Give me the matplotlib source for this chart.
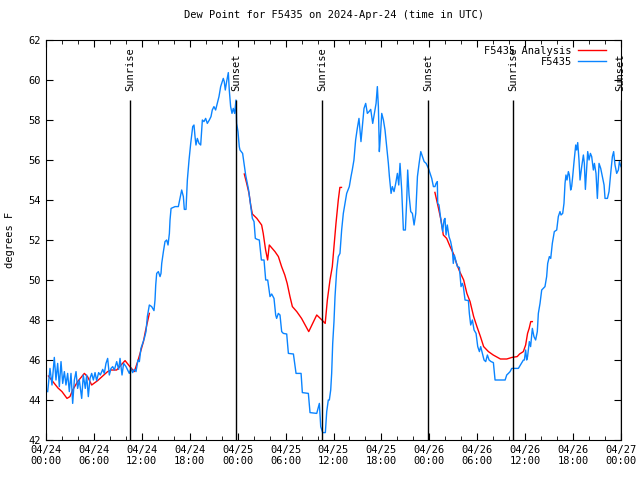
import numpy as np
import pandas as pd
import matplotlib
matplotlib.use("Agg")
import matplotlib.pyplot as plt
import matplotlib.dates as mdates

plt.rcParams['font.family'] = ['DejaVu Sans Mono']

# hours after 2024-04-24 00:00 UTC, dew point in F
blue_hours = [
    0.21, 0.50, 0.75, 1.04, 1.25, 1.46, 1.67, 1.88, 2.09, 2.30, 2.50, 2.71, 2.92, 3.13, 3.34, 3.55,
    3.76, 3.96, 4.17, 4.47, 4.67, 4.92, 5.09, 5.30, 5.51, 5.72, 5.93, 6.14, 6.34, 6.59, 6.80, 7.10,
    7.30, 7.51, 7.72, 7.93, 8.14, 8.35, 8.56, 8.85, 9.10, 9.27, 9.52, 9.72, 10.02, 10.23, 10.43,
    10.64, 10.85, 11.06, 11.27, 11.52, 11.69, 11.89, 12.10, 12.31, 12.52,
    12.69, 12.94, 13.23, 13.52, 13.65, 13.74, 13.86, 14.07, 14.28, 14.40, 14.49, 14.70, 14.90,
    15.11, 15.28, 15.45, 15.53, 15.66, 16.16, 16.57, 16.78, 16.99, 17.20, 17.32, 17.53, 17.70,
    17.91, 18.12, 18.37, 18.53, 18.66, 18.78, 18.95, 19.16, 19.37, 19.58, 19.78, 19.99, 20.20,
    20.45, 20.66, 20.82, 21.03, 21.24, 21.45, 21.66, 21.87, 22.07, 22.20, 22.32, 22.45, 22.62,
    22.83, 22.95, 23.12, 23.29, 23.45, 23.62, 23.79, 23.87, 24.04, 24.20,
    24.29, 24.62, 24.79, 25.00, 25.20, 25.37, 25.54, 25.67, 25.84, 26.05, 26.21, 26.46, 26.71,
    26.97, 27.30, 27.51, 27.76, 28.05, 28.26, 28.55, 28.76, 28.88, 29.09, 29.30, 29.51, 29.72,
    30.14, 30.35, 30.98, 31.31, 31.94, 32.10, 32.85, 33.06, 33.90, 34.23, 34.40, 34.65, 34.98,
    35.15, 35.35,
    35.48, 35.65, 35.77, 35.90, 36.06, 36.19, 36.40, 36.60, 36.81, 37.02, 37.23, 37.44, 37.65,
    37.98, 38.19, 38.35, 38.56, 38.77, 38.98, 39.19, 39.32, 39.44, 39.61, 39.82, 40.03, 40.24,
    40.45, 40.66, 40.91, 41.12, 41.33, 41.49, 41.62, 41.74, 41.87, 42.04, 42.25, 42.45, 42.66,
    42.87, 43.00, 43.21, 43.37, 43.58, 43.79, 44.00, 44.17, 44.33, 44.54, 44.67, 44.75, 45.00,
    45.17, 45.29, 45.46, 45.67, 45.88, 46.09, 46.30, 46.51, 46.72, 46.93, 47.14, 47.35, 47.60,
    47.89,
    48.09, 48.30, 48.51, 48.71, 48.84, 49.00, 49.05, 49.21, 49.42, 49.67, 49.84, 49.96, 50.09,
    50.25, 50.46, 50.67, 50.88, 51.00, 51.13, 51.30, 51.51, 51.76, 51.97, 52.14, 52.26, 52.47,
    52.89, 53.01, 53.18, 53.39, 53.60, 53.85, 54.06, 54.27, 54.43, 54.64, 54.85, 55.06, 55.27,
    55.48, 55.73, 56.02, 56.23, 57.49, 57.69, 57.90, 58.11, 58.32, 59.15,
    59.78, 59.90, 60.06, 60.19, 60.30, 60.52, 60.68, 60.90, 61.10, 61.31, 61.52, 61.65, 61.86,
    62.07, 62.27, 62.48, 62.69, 62.82, 63.03, 63.20, 63.40, 63.65, 63.95, 64.15, 64.36, 64.49,
    64.70, 64.86, 64.99, 65.11, 65.24, 65.41, 65.53, 65.70, 65.82, 65.95, 66.12, 66.33, 66.45,
    66.58, 66.74, 66.87, 67.08, 67.29, 67.41, 67.54, 67.71, 67.83, 68.00, 68.17, 68.33, 68.54,
    68.67, 68.87, 69.04, 69.25, 69.46, 69.67, 69.88, 70.00, 70.30, 70.50, 70.71, 70.92, 71.08,
    71.25, 71.46, 71.67, 71.80, 72.00,
]
blue_dewpt = [
    44.42, 45.58, 44.75, 46.13, 45.00, 45.83, 44.67, 45.92, 44.83, 45.42, 44.75, 45.33, 44.42,
    45.33, 43.83, 45.00, 45.42, 44.58, 45.00, 44.08, 45.25, 44.58, 45.25, 44.17, 45.08, 45.33,
    45.00, 45.37, 44.97, 45.37, 45.25, 45.53, 45.33, 45.83, 46.08, 45.25, 45.58, 45.67, 45.50,
    45.92, 45.53, 46.08, 45.25, 45.83, 45.67, 45.50, 45.33, 45.58, 45.37, 45.53, 45.42, 46.00,
    45.92, 46.58, 46.83, 47.08, 47.42,
    48.17, 48.75, 48.67, 48.47, 49.00, 49.75, 50.33, 50.42, 50.17, 50.33, 50.83, 51.42, 51.92,
    52.00, 51.75, 52.33, 53.00, 53.58, 53.67, 53.67, 54.08, 54.50, 54.17, 53.53, 53.53, 55.00,
    56.00, 56.83, 57.67, 57.75, 57.17, 56.75, 57.08, 56.83, 56.75, 58.00, 57.92, 58.08, 57.83,
    58.00, 58.17, 58.50, 58.67, 58.50, 58.83, 59.17, 59.67, 59.92, 60.08, 59.92, 59.50, 59.92,
    60.37, 59.50, 58.67, 58.33, 58.58, 58.33, 59.00, 57.83, 57.42, 56.67,
    56.50, 56.33, 55.83, 55.25, 54.83, 54.50, 54.00, 53.58, 53.08, 52.92, 52.08, 52.03, 52.00,
    51.00, 51.00, 50.00, 50.00, 49.17, 49.30, 49.08, 48.25, 48.08, 48.33, 48.25, 47.42, 47.33,
    47.30, 46.33, 46.30, 45.33, 45.33, 44.37, 44.33, 43.37, 43.33, 43.83, 42.67, 42.37, 42.37,
    43.42, 44.00,
    44.00, 44.50, 45.33, 46.83, 47.92, 49.17, 50.50, 51.17, 51.33, 52.50, 53.33, 53.83, 54.33,
    54.67, 55.17, 55.50, 56.00, 57.00, 57.58, 58.08, 57.50, 56.92, 57.67, 58.58, 58.83, 58.33,
    58.42, 58.53, 57.83, 58.33, 58.83, 59.67, 58.67, 56.42, 57.17, 58.33, 58.00, 57.50, 56.67,
    55.83, 55.17, 54.33, 54.67, 54.42, 54.83, 55.33, 54.75, 55.83, 54.50, 53.33, 52.50, 52.50,
    54.00, 55.50, 54.25, 53.42, 53.33, 52.75, 53.33, 55.17, 55.83, 56.42, 56.17, 55.92, 55.83,
    55.58,
    55.33, 55.08, 54.67, 54.67, 54.83, 54.92, 53.83, 53.75, 53.08, 52.42, 53.00, 53.08, 52.25,
    52.75, 52.17, 51.92, 51.50, 50.83, 51.25, 51.00, 50.67, 50.63, 49.67, 49.83, 49.67, 49.00,
    48.97, 48.33, 47.75, 48.00, 47.50, 47.33, 46.67, 46.42, 46.67, 46.33, 46.00, 45.92, 46.25,
    46.00, 45.92, 45.87, 45.00, 45.00, 45.25, 45.33, 45.42, 45.58, 45.58,
    46.00, 46.00, 46.50, 46.00, 46.17, 46.92, 46.67, 47.58, 47.17, 47.00, 47.42, 48.33, 48.83,
    49.50, 49.58, 49.67, 50.17, 50.83, 51.17, 51.08, 51.83, 52.42, 52.50, 53.17, 53.42, 53.25,
    53.33, 53.83, 54.83, 55.25, 55.00, 55.42, 55.25, 54.50, 54.67, 55.17, 55.92, 56.75, 56.50,
    56.87, 56.00, 55.00, 55.67, 56.25, 55.83, 54.53, 55.67, 56.42, 56.00, 56.33, 56.17, 55.50,
    55.83, 55.33, 54.08, 55.83, 55.58, 55.17, 54.75, 54.08, 54.08, 54.42, 55.33, 56.17, 56.42,
    55.75, 55.33, 55.50, 55.92, 55.67,
]

red_hours = [
    0.30, 1.00, 1.50, 2.00, 2.63, 3.00, 3.34, 3.96, 4.80, 5.20, 5.72, 6.47, 7.10, 7.72, 8.14,
    8.85, 9.40, 9.90, 10.50, 11.06, 11.48, 11.90, 12.20, 12.44, 12.94,
    18.00,
    24.83, 25.13, 25.42, 25.63, 25.84, 26.40, 27.00, 27.20, 27.50, 27.75, 27.96, 28.67, 29.10,
    29.50, 29.90, 30.20, 30.55, 30.85, 31.40, 32.00, 32.90, 33.50, 33.90, 34.55, 34.96, 35.23,
    35.56, 35.85, 36.06, 36.31, 36.60, 36.80, 37.00,
    42.00,
    48.70, 49.10, 49.46, 49.75, 50.17, 50.60, 51.00, 51.40, 51.80, 52.30, 52.70, 53.10, 53.55,
    53.96, 54.40, 54.80, 55.40, 56.00, 56.90, 57.70, 58.35, 59.00, 59.30, 59.77, 60.06, 60.30,
    60.50, 60.70, 60.90,
]
red_dewpt = [
    45.20, 44.85, 44.60, 44.42, 44.08, 44.17, 44.50, 44.92, 45.33, 45.17, 44.75, 44.97, 45.20,
    45.42, 45.50, 45.50, 45.75, 45.97, 45.67, 45.42, 45.92, 46.50, 46.92, 47.42, 48.33,
    np.nan,
    55.30, 54.83, 54.33, 53.75, 53.30, 53.08, 52.75, 52.33, 51.50, 51.00, 51.75, 51.42, 51.17,
    50.67, 50.25, 49.83, 49.17, 48.67, 48.42, 48.08, 47.42, 47.92, 48.25, 48.00, 47.83, 49.00,
    50.00, 50.67, 51.67, 52.83, 54.00, 54.63, 54.63,
    np.nan,
    54.38, 53.67, 53.00, 52.25, 52.08, 51.67, 51.33, 50.83, 50.42, 50.00, 49.33, 48.92, 48.17,
    47.67, 47.17, 46.67, 46.42, 46.25, 46.05, 46.05, 46.13, 46.17, 46.30, 46.42, 46.75, 47.33,
    47.58, 47.92, 47.92,
]

sun_hours = [10.56, 23.83, 34.60, 47.88, 58.52, 71.96]
sun_labels = ['Sunrise', 'Sunset', 'Sunrise', 'Sunset', 'Sunrise', 'Sunset']

base = pd.Timestamp('2024-04-24 00:00')
def to_time(h):
    return base + pd.to_timedelta(np.array(h), unit='h')

fig = plt.figure(figsize=(6.4, 4.8), dpi=100)
ax = fig.add_axes([46/640, 40/480, 575/640, 400/480])

ax.plot(to_time(red_hours), red_dewpt, color='#ff0000', lw=1, label='F5435 Analysis')
ax.plot(to_time(blue_hours), blue_dewpt, color='#0a84ff', lw=1, label='F5435')

for h, lab in zip(sun_hours, sun_labels):
    t = to_time([h])[0]
    ax.vlines(t, 42, 59, color='black', lw=1)
    ax.text(t, 59.45, lab, rotation=90, ha='center', va='bottom', fontsize=7.5)

ax.set_xlim(base, base + pd.Timedelta(hours=72))
ax.set_ylim(42, 62)
ax.set_yticks(np.arange(42, 63, 2))
ax.xaxis.set_major_locator(mdates.HourLocator(byhour=[0, 6, 12, 18]))
ax.xaxis.set_minor_locator(mdates.HourLocator(byhour=range(0, 24, 2)))
ax.xaxis.set_major_formatter(mdates.DateFormatter('%m/%d\n%H:%M'))
ax.tick_params(which='both', direction='in', top=True, right=True, labelsize=7.5)
ax.tick_params(which='major', length=5)
ax.tick_params(which='minor', length=3)

ax.set_title('Dew Point for F5435 on 2024-Apr-24 (time in UTC)', fontsize=7.5, pad=16)
ax.set_ylabel('degrees F', fontsize=7.5, labelpad=10)

ax.legend(loc='upper right', bbox_to_anchor=(1 - 9/575, 1.0), frameon=False,
          markerfirst=False, fontsize=7.5, handlelength=2.7, handletextpad=0.6,
          borderaxespad=0.15, labelspacing=0.12)

fig.savefig('out.png', dpi=100)
